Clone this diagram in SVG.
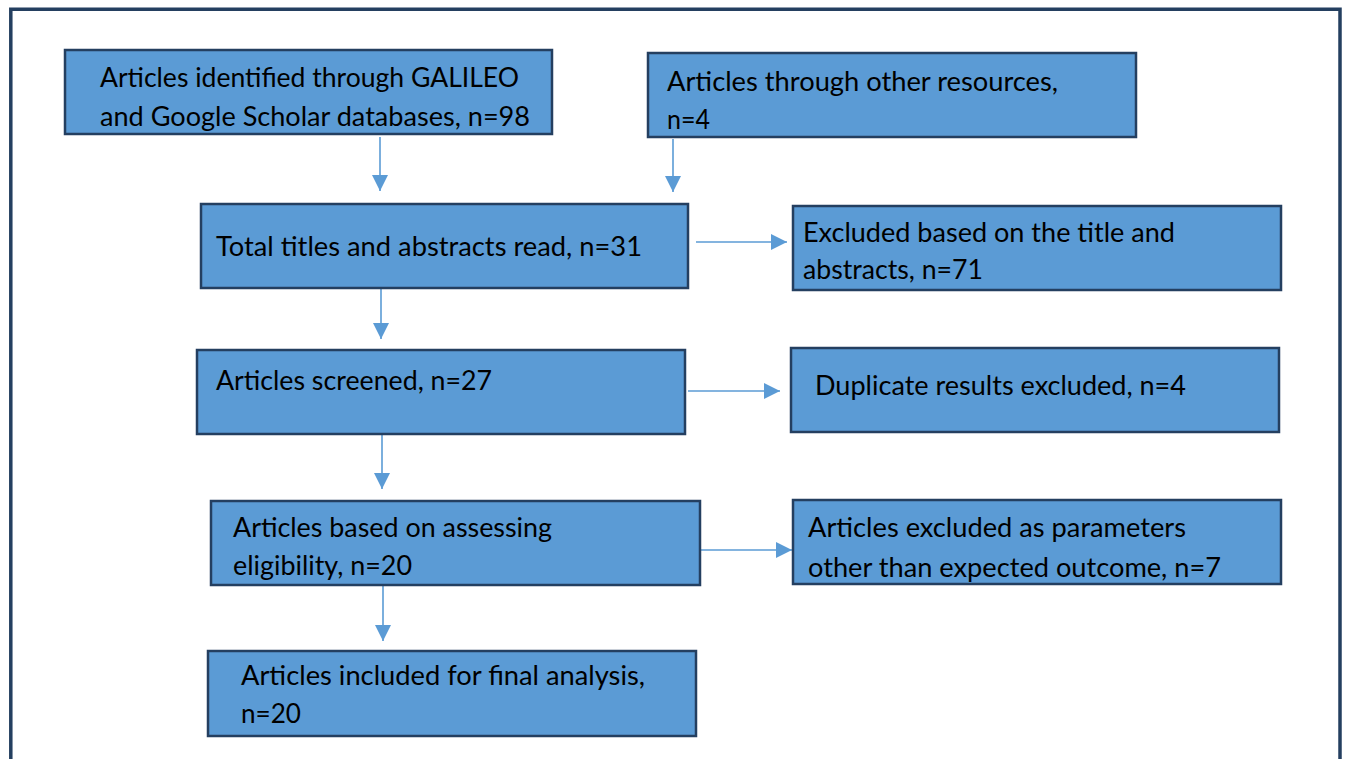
<svg xmlns="http://www.w3.org/2000/svg" width="1348" height="759" viewBox="0 0 1348 759">
<style>
.box{fill:#5b9bd5;stroke:#243f60;stroke-width:2.5}
.t{font-family:Lato,"Open Sans","Liberation Sans",sans-serif;font-size:27px;fill:#000}
.c{stroke:#5b9bd5;stroke-width:1.6;fill:none;marker-end:url(#ah)}
</style>
<defs>
<marker id="ah" viewBox="0 0 16 16" refX="16" refY="8" markerWidth="16" markerHeight="16" markerUnits="userSpaceOnUse" orient="auto">
<path d="M0,0 L16,8 L0,16 z" fill="#5b9bd5"/>
</marker>
</defs>
<rect width="1348" height="759" fill="#fff"/>
<path d="M10.8,775 V9.2 H1340 V775" fill="none" stroke="#243f60" stroke-width="3.5"/>
<g id="connectors">
<line class="c" x1="380" y1="137" x2="380" y2="191"/>
<line class="c" x1="673" y1="139" x2="673" y2="192"/>
<line class="c" x1="696" y1="242" x2="787" y2="242"/>
<line class="c" x1="381" y1="288" x2="381" y2="339"/>
<line class="c" x1="688" y1="391" x2="780" y2="391"/>
<line class="c" x1="382" y1="434" x2="382" y2="489"/>
<line class="c" x1="700" y1="550" x2="792" y2="550"/>
<line class="c" x1="383" y1="585" x2="383" y2="641"/>
</g>
<g id="n1"><rect class="box" x="65" y="50" width="487" height="84"/>
<text class="t" x="100" y="87" textLength="419" lengthAdjust="spacingAndGlyphs">Articles identified through GALILEO</text>
<text class="t" x="100" y="126" textLength="430" lengthAdjust="spacingAndGlyphs">and Google Scholar databases, n=98</text></g>
<g id="n2"><rect class="box" x="648" y="53" width="488" height="84"/>
<text class="t" x="667" y="91" textLength="391" lengthAdjust="spacingAndGlyphs">Articles through other resources,</text>
<text class="t" x="667" y="129" textLength="43" lengthAdjust="spacingAndGlyphs">n=4</text></g>
<g id="n3"><rect class="box" x="201" y="204" width="487" height="84"/>
<text class="t" x="216" y="256" textLength="426" lengthAdjust="spacingAndGlyphs">Total titles and abstracts read, n=31</text></g>
<g id="n4"><rect class="box" x="793" y="206" width="488" height="84"/>
<text class="t" x="803" y="242" textLength="372" lengthAdjust="spacingAndGlyphs">Excluded based on the title and</text>
<text class="t" x="803" y="279" textLength="180" lengthAdjust="spacingAndGlyphs">abstracts, n=71</text></g>
<g id="n5"><rect class="box" x="197" y="350" width="488" height="84"/>
<text class="t" x="216" y="390" textLength="276" lengthAdjust="spacingAndGlyphs">Articles screened, n=27</text></g>
<g id="n6"><rect class="box" x="791" y="348" width="488" height="84"/>
<text class="t" x="815" y="395" textLength="371" lengthAdjust="spacingAndGlyphs">Duplicate results excluded, n=4</text></g>
<g id="n7"><rect class="box" x="211" y="501" width="489" height="84"/>
<text class="t" x="233" y="537" textLength="319" lengthAdjust="spacingAndGlyphs">Articles based on assessing</text>
<text class="t" x="233" y="575" textLength="179" lengthAdjust="spacingAndGlyphs">eligibility, n=20</text></g>
<g id="n8"><rect class="box" x="793" y="500" width="488" height="84"/>
<text class="t" x="808" y="537" textLength="378" lengthAdjust="spacingAndGlyphs">Articles excluded as parameters</text>
<text class="t" x="808" y="577" textLength="413" lengthAdjust="spacingAndGlyphs">other than expected outcome, n=7</text></g>
<g id="n9"><rect class="box" x="208" y="651" width="488" height="85"/>
<text class="t" x="241" y="685" textLength="404" lengthAdjust="spacingAndGlyphs">Articles included for final analysis,</text>
<text class="t" x="241" y="723" textLength="60" lengthAdjust="spacingAndGlyphs">n=20</text></g>
</svg>
